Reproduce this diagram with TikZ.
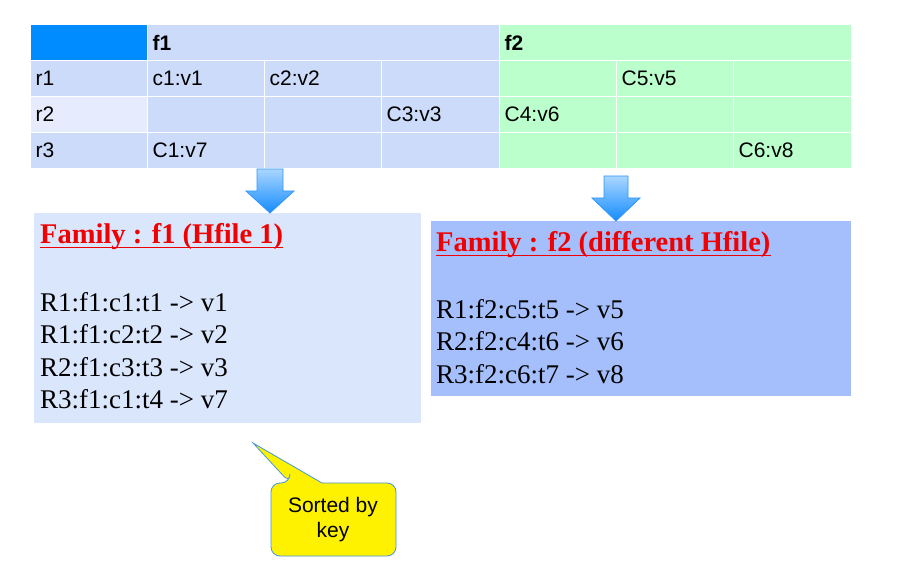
\documentclass[tikz,border=0pt]{standalone}
\usepackage{fontspec}
\setmainfont{Liberation Sans}
\newfontfamily\boxserif{Liberation Serif}
\definecolor{hdrblue}{RGB}{0,140,255}
\definecolor{fonecell}{RGB}{204,219,250}
\definecolor{ftwolabel}{RGB}{230,236,253}
\definecolor{ftwocell}{RGB}{187,255,204}
\definecolor{boxone}{RGB}{218,230,252}
\definecolor{boxtwo}{RGB}{164,191,252}
\definecolor{arrtop}{RGB}{170,214,255}
\definecolor{arrbot}{RGB}{20,140,255}
\definecolor{arredge}{RGB}{50,150,250}
\definecolor{titlered}{RGB}{240,0,0}
\definecolor{calloutedge}{RGB}{70,150,220}
\begin{document}
\begin{tikzpicture}[x=1pt,y=-1pt,
  cell/.style={rectangle, draw=white, line width=1.2pt, minimum height=36pt,
    inner xsep=5pt, inner ysep=0pt, anchor=north west, align=left,
    font=\fontsize{21}{24}\selectfont},
  famcell/.style={cell, fill=fonecell},
  grncell/.style={cell, fill=ftwocell},
  blockarrow/.style={top color=arrtop, bottom color=arrbot, draw=arredge, line width=0.8pt},
  famtitle/.style={anchor=base west, inner sep=0pt, text=titlered,
    font=\boxserif\bfseries\fontsize{28.5}{32}\selectfont},
  famline/.style={anchor=base west, inner sep=0pt,
    font=\boxserif\fontsize{27}{32}\selectfont},
  ]
\useasboundingbox (0,0) rectangle (906,569);

% header row
\node[cell, fill=hdrblue, text width=107pt] (h0) at (30,24) {};
\node[famcell, text width=342pt] (hf1) at (147,24) {\bfseries f1};
\node[grncell, text width=342pt] (hf2) at (499,24) {\bfseries f2};

% row r1
\node[famcell, text width=107pt] (r1) at (30,60) {r1};
\node[famcell, text width=107pt] (r1a) at (147,60) {c1:v1};
\node[famcell, text width=107pt] (r1b) at (264,60) {c2:v2};
\node[famcell, text width=108pt] (r1c) at (381,60) {};
\node[grncell, text width=107pt] (r1d) at (499,60) {};
\node[grncell, text width=107pt] (r1e) at (616,60) {C5:v5};
\node[grncell, text width=108pt] (r1f) at (733,60) {};

% row r2
\node[cell, fill=ftwolabel, text width=107pt] (r2) at (30,96) {r2};
\node[famcell, text width=107pt] (r2a) at (147,96) {};
\node[famcell, text width=107pt] (r2b) at (264,96) {};
\node[famcell, text width=108pt] (r2c) at (381,96) {C3:v3};
\node[grncell, text width=107pt] (r2d) at (499,96) {C4:v6};
\node[grncell, text width=107pt] (r2e) at (616,96) {};
\node[grncell, text width=108pt] (r2f) at (733,96) {};

% row r3
\node[famcell, text width=107pt] (r3) at (30,132) {r3};
\node[famcell, text width=107pt] (r3a) at (147,132) {C1:v7};
\node[famcell, text width=107pt] (r3b) at (264,132) {};
\node[famcell, text width=108pt] (r3c) at (381,132) {};
\node[grncell, text width=107pt] (r3d) at (499,132) {};
\node[grncell, text width=107pt] (r3e) at (616,132) {};
\node[grncell, text width=108pt] (r3f) at (733,132) {C6:v8};

% boxes
\node[rectangle, fill=boxone, inner sep=0pt, minimum width=387pt, minimum height=210pt, anchor=north west] (box1) at (34,213) {};
\node[rectangle, fill=boxtwo, inner sep=0pt, minimum width=420pt, minimum height=175pt, anchor=north west] (box2) at (431,221) {};

% block arrows
\shade[blockarrow] (257,169) -- (283,169) -- (283,191) -- (294,191) -- (270,213) -- (246,191) -- (257,191) -- cycle;
\shade[blockarrow] (604,176) -- (628,176) -- (628,198) -- (640,198) -- (616,221) -- (592,198) -- (604,198) -- cycle;

% box 1 text
\node[famtitle] (t1) at (40,244) {Family : f1 (Hfile 1)};
\draw[titlered, line width=1pt] ([yshift=-3.5pt]t1.base west) -- ([yshift=-3.5pt]t1.base east);
\node[famline] (l11) at (40,311.5) {R1:f1:c1:t1 -> v1};
\node[famline] (l12) at (40,344) {R1:f1:c2:t2 -> v2};
\node[famline] (l13) at (40,376.5) {R2:f1:c3:t3 -> v3};
\node[famline] (l14) at (40,409) {R3:f1:c1:t4 -> v7};

% box 2 text
\node[famtitle] (t2) at (436,252) {Family : f2 (different Hfile)};
\draw[titlered, line width=1pt] ([yshift=-3.5pt]t2.base west) -- ([yshift=-3.5pt]t2.base east);
\node[famline] (l21) at (436,318.5) {R1:f2:c5:t5 -> v5};
\node[famline] (l22) at (436,351) {R2:f2:c4:t6 -> v6};
\node[famline] (l23) at (436,383.5) {R3:f2:c6:t7 -> v8};

% callout
\coordinate (ptip) at (253,443);
\filldraw[fill=yellow, draw=calloutedge, line width=0.8pt]
  (290,483) -- (ptip) -- (322,483) [rounded corners=9pt] -- (396,483) -- (396,556) -- (271,556) -- (271,483) -- (290,483) -- cycle;
\node[align=center, inner sep=0pt, font=\fontsize{21}{25}\selectfont] (callout) at (333,520) {Sorted by\\key};
\end{tikzpicture}
\end{document}
